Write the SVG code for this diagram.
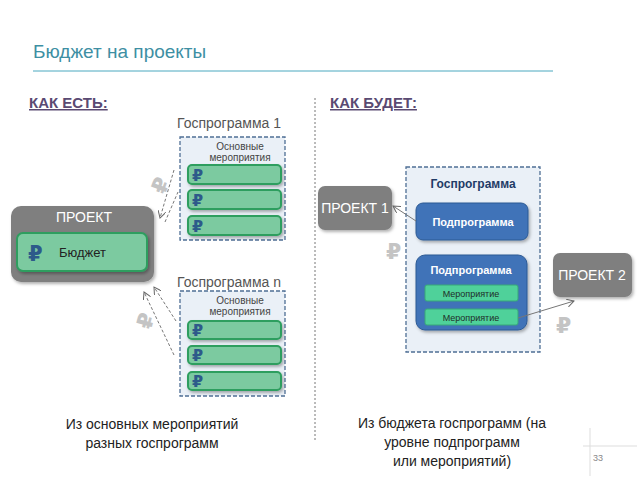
<svg xmlns="http://www.w3.org/2000/svg" width="638" height="479" viewBox="0 0 638 479">
<defs>
<marker id="ah" markerWidth="8" markerHeight="8" refX="7" refY="4" orient="auto" markerUnits="userSpaceOnUse"><path d="M0,0 L7,4 L0,8" fill="none" stroke="#666" stroke-width="1"/></marker>
<filter id="sh" x="-10%" y="-10%" width="130%" height="140%"><feDropShadow dx="1.5" dy="2" stdDeviation="1.5" flood-color="#000" flood-opacity="0.3"/></filter>
</defs>
<style>
text{font-family:"Liberation Sans",Arial,sans-serif}
.gb{fill:#eaf0f7;stroke:#4f6f95;stroke-width:1.3;stroke-dasharray:4 2}
.bar{fill:#7bcaa0;stroke:#2e9e5e;stroke-width:2;filter:url(#sh)}
text.rub{fill:#2d5a8a;font-weight:bold;font-size:16px;font-family:"DejaVu Sans",sans-serif}
text.grub{fill:#c4c4c4;font-weight:bold;font-size:22px;font-family:"DejaVu Sans",sans-serif}
.lbl{fill:#555;font-size:14px}
.sm{fill:#444;font-size:10px;text-anchor:middle}
.proj{fill:#7f7f7f;filter:url(#sh)}
.wt{fill:#fff;font-size:14px;text-anchor:middle}
.blue{fill:#3f73b8;stroke:#2d5a94;stroke-width:1;filter:url(#sh)}
.bt{fill:#fff;font-size:11px;font-weight:bold;text-anchor:middle}
.mer{fill:#4fd19a;stroke:#38a878;stroke-width:1}
.mt{fill:#1f2e28;font-size:9px;text-anchor:middle}
.bot{fill:#222;font-size:14px;text-anchor:middle}
.hd{fill:#5a4a72;font-size:15px;font-weight:bold;text-decoration:underline}
</style>
<rect width="638" height="479" fill="#fff"/>
<text x="33" y="58" font-size="19" fill="#3e8fa3">Бюджет на проекты</text>
<line x1="33" y1="71" x2="553" y2="71" stroke="#4aa8bf" stroke-width="1"/>
<text class="hd" x="29" y="108">КАК ЕСТЬ:</text>
<text class="hd" x="330" y="108">КАК БУДЕТ:</text>
<line x1="315" y1="98" x2="315" y2="442" stroke="#777" stroke-width="1" stroke-dasharray="2 2"/>
<g id="gp1">
<text class="lbl" x="177" y="128">Госпрограмма 1</text>
<rect class="gb" x="180" y="137" width="105" height="103"/>
<text class="sm" x="240" y="150">Основные</text><text class="sm" x="240" y="161">мероприятия</text>
<rect class="bar" x="188" y="165" width="93" height="19" rx="4"/><text class="rub" x="192" y="181">₽</text>
<rect class="bar" x="188" y="190" width="93" height="19" rx="4"/><text class="rub" x="192" y="206">₽</text>
<rect class="bar" x="188" y="216" width="93" height="19" rx="4"/><text class="rub" x="192" y="232">₽</text>
</g>
<g id="gpn">
<text class="lbl" x="177" y="287">Госпрограмма n</text>
<rect class="gb" x="180" y="291" width="105" height="105"/>
<text class="sm" x="240" y="304">Основные</text><text class="sm" x="240" y="315">мероприятия</text>
<rect class="bar" x="188" y="321" width="93" height="18" rx="4"/><text class="rub" x="192" y="336">₽</text>
<rect class="bar" x="188" y="346" width="93" height="18" rx="4"/><text class="rub" x="192" y="361">₽</text>
<rect class="bar" x="188" y="372" width="93" height="18" rx="4"/><text class="rub" x="192" y="387">₽</text>
</g>
<g id="project">
<rect class="proj" x="11" y="206" width="143" height="76" rx="10"/>
<text class="wt" x="84" y="222">ПРОЕКТ</text>
<rect class="bar" x="17" y="233" width="130" height="38" rx="6"/>
<text class="rub" x="28" y="261" style="font-size:21px">₽</text>
<text x="59" y="257" font-size="13" fill="#222">Бюджет</text>
</g>
<g id="gp">
<rect class="gb" x="406" y="167" width="134" height="185"/>
<text x="473" y="188" font-size="12" font-weight="bold" fill="#1f3b66" text-anchor="middle">Госпрограмма</text>
<rect class="blue" x="416" y="203" width="112" height="37" rx="7"/>
<text class="bt" x="473" y="226">Подпрограмма</text>
<rect class="blue" x="416" y="255" width="111" height="75" rx="9"/>
<text class="bt" x="471" y="274">Подпрограмма</text>
<rect class="mer" x="425" y="285" width="93" height="16" rx="2"/><text class="mt" x="471" y="297">Мероприятие</text>
<rect class="mer" x="425" y="309" width="93" height="16" rx="2"/><text class="mt" x="471" y="321">Мероприятие</text>
</g>
<g id="p1"><rect class="proj" x="318" y="186" width="74" height="44" rx="7"/><text class="wt" x="355" y="213">ПРОЕКТ 1</text></g>
<g id="p2"><rect class="proj" x="553" y="253" width="79" height="44" rx="7"/><text class="wt" x="592" y="280">ПРОЕКТ 2</text></g>
<g id="connectors" fill="none" stroke="#777" stroke-width="1">
<line x1="174" y1="170" x2="160" y2="218" stroke-dasharray="3 2" marker-end="url(#ah)"/>
<line x1="165" y1="222" x2="178" y2="192" stroke-dasharray="3 2"/>
<line x1="176" y1="321" x2="154" y2="287" stroke-dasharray="3 2" marker-end="url(#ah)"/>
<line x1="174" y1="355" x2="144" y2="292" stroke-dasharray="3 2" marker-end="url(#ah)"/>
<line x1="416" y1="221" x2="393" y2="206" marker-end="url(#ah)"/>
<line x1="518" y1="318" x2="574" y2="301" marker-end="url(#ah)"/>
</g>
<text class="grub" transform="translate(165,195) rotate(-70)">₽</text>
<text class="grub" transform="translate(151,330) rotate(-75)">₽</text>
<text class="grub" x="386" y="259">₽</text>
<text class="grub" x="556" y="333">₽</text>
<text class="bot" x="152" y="429">Из основных мероприятий</text>
<text class="bot" x="152" y="448">разных госпрограмм</text>
<text class="bot" x="452" y="428">Из бюджета госпрограмм (на</text>
<text class="bot" x="452" y="447">уровне подпрограмм</text>
<text class="bot" x="452" y="466">или мероприятий)</text>
<line x1="583" y1="446" x2="637" y2="446" stroke="#ddd"/>
<line x1="590" y1="428" x2="590" y2="476" stroke="#ddd"/>
<text x="593" y="461" font-size="9" fill="#888">33</text>
</svg>
